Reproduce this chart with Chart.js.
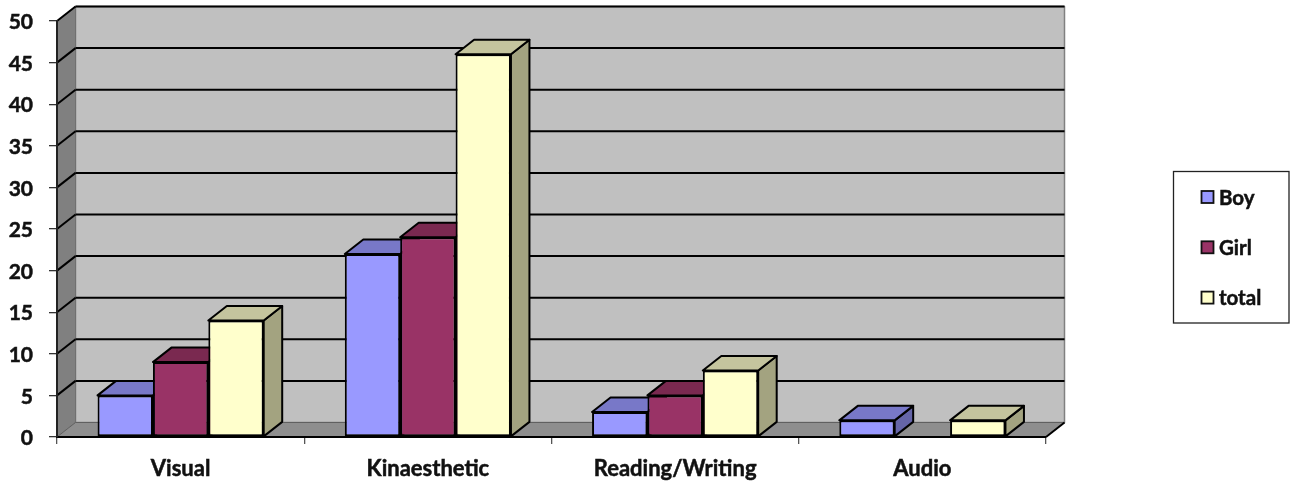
<!DOCTYPE html>
<html>
<head>
<meta charset="utf-8">
<title>Learning styles</title>
<script src="https://cdn.jsdelivr.net/npm/chart.js@4"></script>
<style>
    html, body { margin: 0; padding: 0; background: #fff; }
    canvas { display: block; }
</style>
</head>
<body>
<canvas id="myChart" width="1293" height="482"></canvas>
<script>
const categories = ['Visual', 'Kinaesthetic', 'Reading/Writing', 'Audio'];
const boy = [5, 22, 3, 2];
const girl = [9, 24, 5, 0];
const total = [14, 46, 8, 2];

const seriesNames = ['Boy', 'Girl', 'total'];
const frontColors = ['#9999ff', '#993366', '#ffffcc'];
const topColors = ['#7878c8', '#7a2950', '#c4c49e'];
const sideColors = ['#6565a8', '#65213f', '#a3a380'];

// how far the box goes back, in pixels
const depthX = 18.5;
const depthY = 14.5;
const fontName = 'Lato, sans-serif';

function polygon(ctx, points, fill, stroke, lineWidth) {
    ctx.beginPath();
    ctx.moveTo(points[0][0], points[0][1]);
    for (let i = 1; i < points.length; i++) {
        ctx.lineTo(points[i][0], points[i][1]);
    }
    ctx.closePath();
    if (fill) {
        ctx.fillStyle = fill;
        ctx.fill();
    }
    if (stroke) {
        ctx.strokeStyle = stroke;
        ctx.lineWidth = lineWidth;
        ctx.lineJoin = 'round';
        ctx.stroke();
    }
}

function line(ctx, x1, y1, x2, y2, color, width) {
    ctx.beginPath();
    ctx.moveTo(x1, y1);
    ctx.lineTo(x2, y2);
    ctx.strokeStyle = color;
    ctx.lineWidth = width;
    ctx.stroke();
}

// back wall, left wall, floor and the gridlines that run over them
const roomPlugin = {
    id: 'room',
    beforeDraw(chart) {
        const ctx = chart.ctx;
        const a = chart.chartArea;
        const yScale = chart.scales.y;
        ctx.save();
        polygon(ctx, [[a.left + depthX, a.top - depthY], [a.right + depthX, a.top - depthY],
            [a.right + depthX, a.bottom - depthY], [a.left + depthX, a.bottom - depthY]], '#c0c0c0', '#808080', 1.5);
        polygon(ctx, [[a.left, a.top], [a.left + depthX, a.top - depthY],
            [a.left + depthX, a.bottom - depthY], [a.left, a.bottom]], '#808080', '#707070', 1);
        polygon(ctx, [[a.left, a.bottom], [a.left + depthX, a.bottom - depthY],
            [a.right + depthX, a.bottom - depthY], [a.right, a.bottom]], '#8e8e8e', '#606060', 1);
        yScale.ticks.forEach(t => {
            if (t.value === 0) return;
            const y = yScale.getPixelForValue(t.value);
            line(ctx, a.left, y, a.left + depthX, y - depthY, '#000', 2);
            line(ctx, a.left + depthX, y - depthY, a.right + depthX, y - depthY, '#000', 2);
        });
        line(ctx, a.right, a.bottom, a.right + depthX, a.bottom - depthY, '#000', 2);
        ctx.restore();
    },
    // tops and sides go down first, left to right, the library then paints the fronts over them
    beforeDatasetsDraw(chart) {
        const ctx = chart.ctx;
        ctx.save();
        chart.data.labels.forEach((label, n) => {
            chart.data.datasets.forEach((dataset, i) => {
                if (dataset.data[n] === 0) return;
                const bar = chart.getDatasetMeta(i).data[n];
                const half = bar.width / 2;
                const left = bar.x - half;
                const right = bar.x + half;
                polygon(ctx, [[right, bar.y], [right + depthX, bar.y - depthY],
                    [right + depthX, bar.base - depthY], [right, bar.base]], sideColors[i], '#000', 2);
                polygon(ctx, [[left, bar.y], [left + depthX, bar.y - depthY],
                    [right + depthX, bar.y - depthY], [right, bar.y]], topColors[i], '#000', 2);
            });
        });
        ctx.restore();
    },
    // legend box to the right of the plot
    afterDraw(chart) {
        const ctx = chart.ctx;
        ctx.save();
        ctx.strokeStyle = '#222';
        ctx.lineWidth = 1.3;
        ctx.strokeRect(1173.5, 171.5, 115.5, 151.5);
        ctx.font = 'bold 20.5px ' + fontName;
        ctx.textBaseline = 'middle';
        ctx.textAlign = 'left';
        seriesNames.forEach((name, i) => {
            const y = 197 + i * 50.3;
            ctx.fillStyle = frontColors[i];
            ctx.fillRect(1201.5, y - 6, 12, 12);
            ctx.strokeStyle = '#111';
            ctx.lineWidth = 1.8;
            ctx.strokeRect(1201.5, y - 6, 12, 12);
            ctx.fillStyle = '#111';
            ctx.fillText(name, 1219, y + 1);
            ctx.lineWidth = 0.5;
            ctx.strokeText(name, 1219, y + 1);
        });
        ctx.restore();
    }
};

const ctx = document.getElementById('myChart').getContext('2d');
const chart = new Chart(ctx, {
    type: 'bar',
    data: {
        labels: categories,
        datasets: [
            { label: seriesNames[0], data: boy, backgroundColor: frontColors[0] },
            { label: seriesNames[1], data: girl, backgroundColor: frontColors[1] },
            { label: seriesNames[2], data: total, backgroundColor: frontColors[2] }
        ]
    },
    options: {
        responsive: false,
        animation: false,
        layout: { autoPadding: false, padding: { left: 0, top: 21, right: 247, bottom: 0 } },
        datasets: {
            bar: {
                categoryPercentage: 0.672,
                barPercentage: 1,
                borderColor: '#000',
                borderWidth: 2,
                borderSkipped: false
            }
        },
        plugins: {
            legend: { display: false },
            tooltip: { enabled: false }
        },
        scales: {
            x: {
                afterFit(scale) {
                    scale.height = 45;
                    scale.paddingLeft = 0;
                    scale.paddingRight = 0;
                },
                grid: { offset: true, drawOnChartArea: false, color: '#555', tickLength: 7, lineWidth: 1.3 },
                border: { display: true, color: '#000', width: 2 },
                ticks: {
                    color: '#111',
                    padding: 12,
                    maxRotation: 0,
                    textStrokeColor: '#111',
                    textStrokeWidth: 0.5,
                    font: { family: fontName, size: 22, weight: 'bold' }
                }
            },
            y: {
                min: 0,
                max: 50,
                afterFit(scale) {
                    scale.width = 57;
                    scale.paddingTop = 0;
                    scale.paddingBottom = 0;
                },
                grid: { drawOnChartArea: false, color: '#333', tickLength: 8, lineWidth: 1.3 },
                border: { display: true, color: '#222', width: 2 },
                ticks: {
                    stepSize: 5,
                    color: '#111',
                    padding: 16,
                    labelOffset: 1.5,
                    textStrokeColor: '#111',
                    textStrokeWidth: 0.5,
                    font: { family: fontName, size: 21, weight: 'bold' }
                }
            }
        }
    },
    plugins: [roomPlugin]
});
</script>
</body>
</html>
